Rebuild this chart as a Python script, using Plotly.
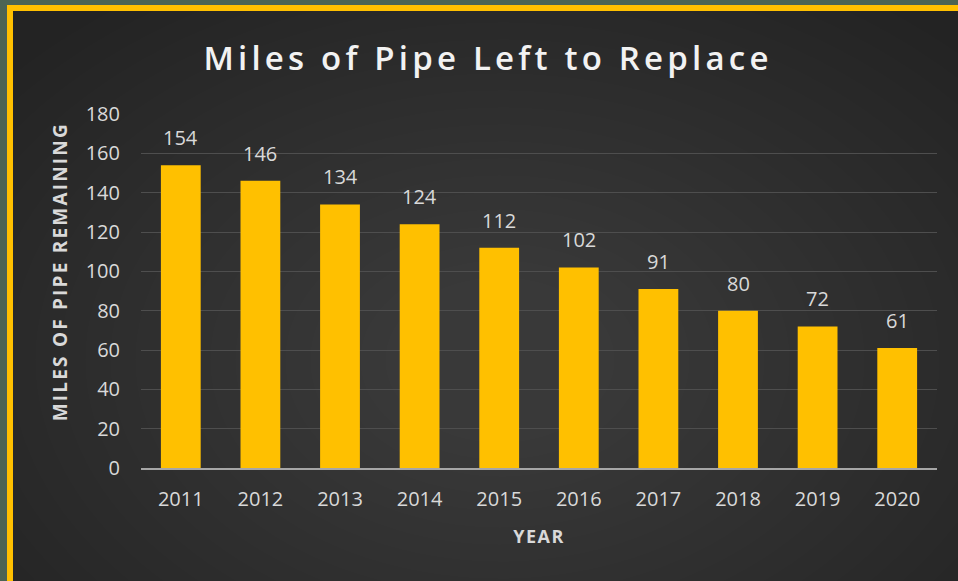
import plotly.graph_objects as go

years = ["2011", "2012", "2013", "2014", "2015", "2016", "2017", "2018", "2019", "2020"]
miles = [154, 146, 134, 124, 112, 102, 91, 80, 72, 61]
y_ticks = [0, 20, 40, 60, 80, 100, 120, 140, 160, 180]

W, H = 958, 581
L, R, T, B = 141, 21, 114, 113
pw, ph = W - L - R, H - T - B

def px(x):
    return (x - L) / pw

def py(y):
    return (H - B - y) / ph

BAR = "#ffc000"
TXT = "#d9d9d9"
fig = go.Figure()
fig.add_trace(go.Bar(x=years, y=miles, marker=dict(color=BAR, line=dict(width=0)),
                     hoverinfo="x+y"))

annotations = []
for i, v in enumerate(miles):
    annotations.append(dict(x=i, y=v, xref="x", yref="y", text=str(v), showarrow=False,
                            yanchor="bottom", yshift=12,
                            font=dict(family="Open Sans", size=20, color=TXT)))
annotations.append(dict(x=px(60), y=py(272), xref="paper", yref="paper",
                        text="MILES OF PIPE REMAINING", textangle=-90, showarrow=False,
                        xanchor="center", yanchor="middle",
                        font=dict(family="Open Sans", size=19, weight="bold", color=TXT)))

shapes = []
# soft radial light in the dark panel
cx, cy = 500, 360
n = 22
for k in range(n):
    rx = 640 - k * 25
    ry = 440 - k * 17
    shapes.append(dict(type="circle", xref="paper", yref="paper",
                       x0=px(cx - rx), x1=px(cx + rx), y0=py(cy + ry), y1=py(cy - ry),
                       fillcolor="rgba(255,255,255,0.0062)", line=dict(width=0), layer="below"))
shapes += [
    dict(type="rect", xref="paper", yref="paper", x0=px(-5), x1=px(W + 5), y0=py(5), y1=py(-5),
         fillcolor="#4b6454", line=dict(width=0), layer="below"),
    dict(type="rect", xref="paper", yref="paper", x0=px(-5), x1=px(7), y0=py(H + 5), y1=py(-5),
         fillcolor="#4b6454", line=dict(width=0), layer="below"),
    dict(type="rect", xref="paper", yref="paper", x0=px(7), x1=px(W + 5), y0=py(11), y1=py(5),
         fillcolor=BAR, line=dict(width=0), layer="below"),
    dict(type="rect", xref="paper", yref="paper", x0=px(7), x1=px(13), y0=py(H + 5), y1=py(5),
         fillcolor=BAR, line=dict(width=0), layer="below"),
]

fig.update_layout(
    width=W, height=H,
    margin=dict(l=L, r=R, t=T, b=B, pad=0),
    paper_bgcolor="#232323",
    plot_bgcolor="rgba(0,0,0,0)",
    showlegend=False,
    bargap=0.5,
    title=dict(text="Miles of Pipe Left to Replace", x=488 / W, xanchor="center",
               y=1 - 58 / H, yanchor="middle",
               font=dict(family="Open Sans", size=33, weight=600, color="#f2f2f2")),
    xaxis=dict(type="category", range=[-0.5, len(years) - 0.5], showgrid=False, showline=True,
               linecolor="#a6a6a6", linewidth=1.5,
               ticks="", ticklabelstandoff=12,
               tickfont=dict(family="Open Sans", size=20, color=TXT),
               title=dict(text="YEAR", standoff=20,
                          font=dict(family="Open Sans", size=18, weight="bold", color=TXT))),
    yaxis=dict(range=[0, 180], tickvals=y_ticks, showgrid=True, gridcolor="#4e4e4e", gridwidth=1,
               zeroline=False, showline=False, ticks="", ticklabelstandoff=20,
               tickfont=dict(family="Open Sans", size=20, color=TXT)),
    annotations=annotations,
    shapes=shapes,
)

post = """
document.body.style.margin='0';document.body.style.overflow='hidden';
var t=document.querySelector('.gtitle'); if(t){t.style.letterSpacing='4.2px';}
var xt=document.querySelector('.xtitle'); if(xt){xt.style.letterSpacing='1.5px';}
document.querySelectorAll('.annotation-text').forEach(function(a){
  if(a.textContent.indexOf('MILES')===0){a.style.letterSpacing='2.2px';}
});
"""
fig.write_html("out.html", post_script=post, config={"displayModeBar": False})
